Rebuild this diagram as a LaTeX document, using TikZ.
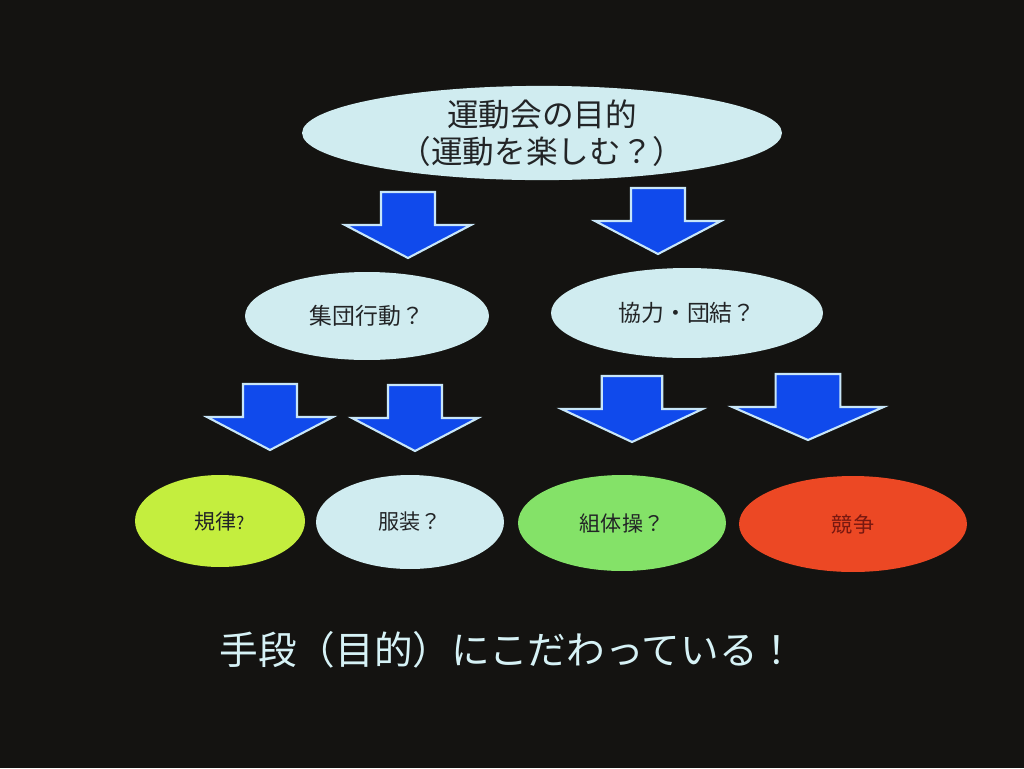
\documentclass[tikz,border=0pt]{standalone}
\usepackage{fontspec}
\newfontfamily\jpfont{Noto Sans CJK JP}
\usetikzlibrary{shapes.geometric}

\definecolor{screen}{RGB}{20,19,17}
\definecolor{paleblue}{RGB}{208,236,240}
\definecolor{limegreen}{RGB}{196,238,62}
\definecolor{leafgreen}{RGB}{132,226,104}
\definecolor{flamered}{RGB}{236,72,36}
\definecolor{arrowblue}{RGB}{16,74,236}
\definecolor{arrowedge}{RGB}{200,230,248}
\definecolor{inktext}{RGB}{34,36,38}
\definecolor{redtext}{RGB}{120,24,16}
\definecolor{captiontext}{RGB}{214,242,246}

\begin{document}
\begin{tikzpicture}[x=0.02cm,y=-0.02cm]

        \tikzstyle{goalnode} = [ellipse, inner sep=0, align=center, fill=paleblue, text=inktext];
        \tikzstyle{bignode} = [goalnode, font=\jpfont\fontsize{18}{21}\selectfont];
        \tikzstyle{midnode} = [goalnode, font=\jpfont\fontsize{13}{15}\selectfont];
        \tikzstyle{leafnode} = [goalnode, font=\jpfont\fontsize{12}{14}\selectfont];
        \tikzstyle{arrowbody} = [fill=arrowblue, draw=arrowedge, line width=1.2pt, line join=miter];
        \tikzset{blockarrow/.pic={
            \draw[arrowbody] (-27,0) -- (27,0) -- (27,33) -- (63,33) -- (0,66) -- (-63,33) -- (-27,33) -- cycle;
        }}

        \fill[screen] (0,0) rectangle (1024,768);
        \useasboundingbox (0,0) rectangle (1024,768);

        \node[bignode, minimum width=9.6cm, minimum height=1.7cm] (Goal) at (542,133) {運動会の目的\\（運動を楽しむ？）};

        \node[midnode, minimum width=4.88cm, minimum height=1.76cm] (Group) at (367,316) {集団行動？};
        \node[midnode, minimum width=5.44cm, minimum height=1.8cm] (Unity) at (687,313) {協力・団結？};

        \node[leafnode, fill=limegreen, minimum width=3.4cm, minimum height=1.84cm] (Rule) at (220,521) {規律\fontsize{10}{12}\selectfont ?};
        \node[leafnode, minimum width=3.76cm, minimum height=1.88cm] (Dress) at (410,522) {服装？};
        \node[leafnode, fill=leafgreen, minimum width=4.16cm, minimum height=1.92cm] (Gym) at (622,523) {組体操？};
        \node[leafnode, fill=flamered, text=redtext, minimum width=4.56cm, minimum height=1.92cm] (Race) at (853,524) {競争};

        \pic at (408,192) {blockarrow};
        \pic at (658,188) {blockarrow};

        \pic at (270,384) {blockarrow};
        \pic at (415,385) {blockarrow};
        \pic[xscale=1.12] at (632,376) {blockarrow};
        \pic[xscale=1.2] at (808,374) {blockarrow};

        \node[text=captiontext, font=\jpfont\fontsize{22}{26}\selectfont] (Caption) at (508,650) {手段（目的）にこだわっている！};

    \end{tikzpicture}
\end{document}
